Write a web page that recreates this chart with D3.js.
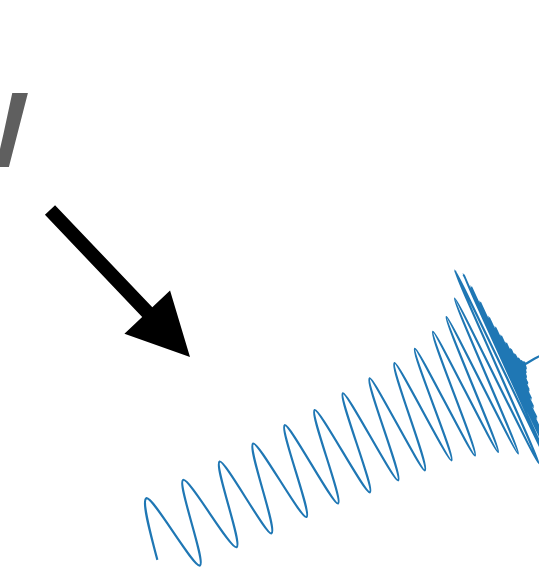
<!DOCTYPE html>
<html>
<head>
<meta charset="utf-8">
<script src="https://cdn.jsdelivr.net/npm/d3@7"></script>
<style>
    body { margin: 0; background: #fff; }
    svg { display: block; }
</style>
</head>
<body>
<div id="chart"></div>
<script>
// turning points of the waveform
// time in s, strain in units of 1e-21
var times = [0.200, 0.2161, 0.2362, 0.2571, 0.2772, 0.2980, 0.3146, 0.3360, 0.3533, 0.3724,
    0.3876, 0.4059, 0.4212, 0.4386, 0.4518, 0.4692, 0.4802, 0.4982, 0.5086, 0.5227,
    0.5319, 0.5463, 0.5544, 0.5647, 0.5719, 0.5800, 0.5865, 0.5920, 0.5955, 0.5981,
    0.5989, 0.5997, 0.6005, 0.6013, 0.6021, 0.6029, 0.6037, 0.6045, 0.6053, 0.6061,
    0.6069, 0.6077, 0.6085, 0.6093, 0.6101, 0.6109, 0.6117, 0.6125, 0.6133, 0.6141,
    0.6149, 0.6157, 0.6165, 0.6300, 0.6600];
var strain = [-0.19, 0.36, -0.40, 0.37, -0.39, 0.38, -0.41, 0.40, -0.41, 0.43,
    -0.42, 0.44, -0.45, 0.47, -0.46, 0.49, -0.48, 0.52, -0.50, 0.56,
    -0.55, 0.63, -0.61, 0.70, -0.70, 0.82, -0.86, 1.05, -1.02, 0.99,
    -0.95, 0.86, -0.80, 0.70, -0.62, 0.54, -0.48, 0.43, -0.38, 0.34,
    -0.30, 0.26, -0.22, 0.19, -0.16, 0.13, -0.10, 0.08, -0.06, 0.05,
    -0.03, 0.03, 0.01, 0.02, 0.02];

var data = times.map(function (t, i) { return { t: t, h: strain[i] }; });

var width = 539, height = 574;

var svg = d3.select("#chart")
    .append("svg")
    .attr("width", width)
    .attr("height", height);

// big grey letter, cut by the left edge
svg.append("text")
    .attr("x", 28)
    .attr("y", 167)
    .attr("text-anchor", "end")
    .style("font-family", "'Liberation Sans', Arial, sans-serif")
    .style("font-weight", "bold")
    .style("font-size", "107px")
    .style("fill", "#5f5f5f")
    .text("W");

// arrow pointing at the signal
var tail = [50, 210], tip = [190, 357];
var shaftW = 7, headL = 62, headW = 31.5;
var len = Math.hypot(tip[0] - tail[0], tip[1] - tail[1]);
var dx = (tip[0] - tail[0]) / len, dy = (tip[1] - tail[1]) / len;
var nx = -dy, ny = dx;
var bx = tip[0] - dx * headL, by = tip[1] - dy * headL;
var arrowPts = [
    [tail[0] + nx * shaftW, tail[1] + ny * shaftW],
    [bx + nx * shaftW, by + ny * shaftW],
    [bx + nx * headW, by + ny * headW],
    tip,
    [bx - nx * headW, by - ny * headW],
    [bx - nx * shaftW, by - ny * shaftW],
    [tail[0] - nx * shaftW, tail[1] - ny * shaftW]
];
svg.append("path")
    .attr("d", d3.line()(arrowPts) + "Z")
    .attr("fill", "#000");

// the waveform plot is tilted by 25 degrees
var g = svg.append("g")
    .attr("transform", "rotate(-25)");

var x = d3.scaleLinear()
    .domain([0.2, 0.66])
    .range([-94, 366]);

var y = d3.scaleLinear()
    .domain([-1, 1])
    .range([663, 443]);

var line = d3.line()
    .x(function (d) { return x(d.t); })
    .y(function (d) { return y(d.h); })
    .curve(d3.curveMonotoneX);

g.append("path")
    .datum(data)
    .attr("d", line)
    .attr("fill", "none")
    .attr("stroke", "#1f77b4")
    .attr("stroke-width", 2.2)
    .attr("stroke-linejoin", "round");
</script>
</body>
</html>
